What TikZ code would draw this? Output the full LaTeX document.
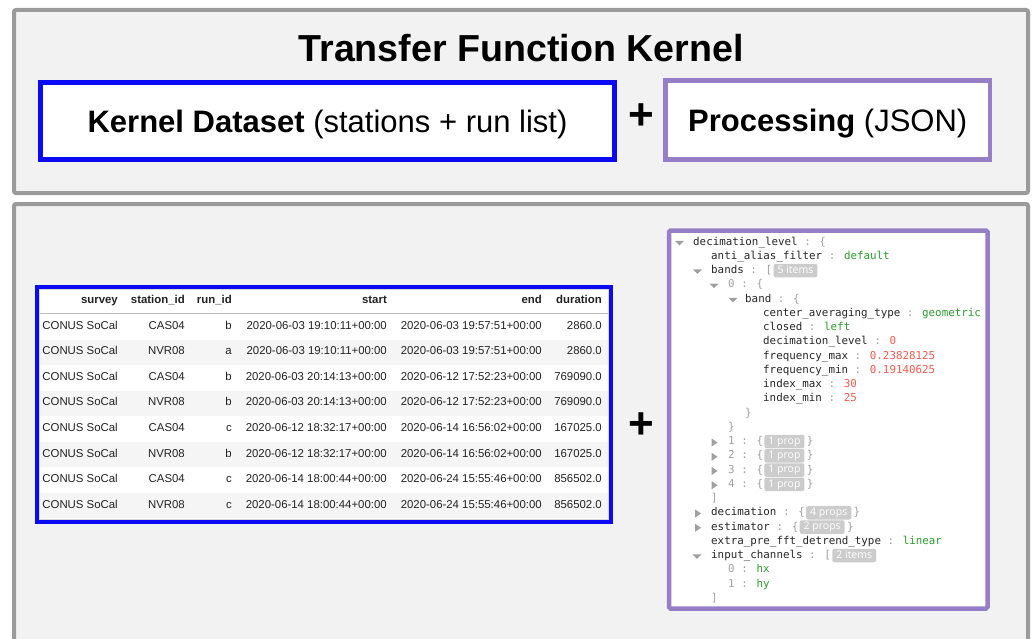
\documentclass[tikz,border=0pt]{standalone}
\usepackage{fontspec}
\setmainfont{Liberation Sans}
\newfontfamily\jmono{DejaVu Sans Mono}
\newfontfamily\badgefont{Open Sans}
\definecolor{panelfill}{RGB}{242,242,242}
\definecolor{panelline}{RGB}{155,155,155}
\definecolor{kblue}{RGB}{10,10,245}
\definecolor{kpurple}{RGB}{149,128,200}
\definecolor{tabtext}{RGB}{34,34,34}
\definecolor{tabline}{RGB}{190,190,190}
\definecolor{rowalt}{RGB}{245,245,245}
\definecolor{jkey}{RGB}{40,40,40}
\definecolor{jpun}{RGB}{160,160,160}
\definecolor{jstr}{RGB}{45,155,45}
\definecolor{jnum}{RGB}{240,90,80}
\definecolor{badgefill}{RGB}{204,204,204}
\newcommand\jk[1]{\textcolor{jkey}{\relax#1}}
\newcommand\jp[1]{\textcolor{jpun}{\relax#1}}
\newcommand\js[1]{\textcolor{jstr}{\relax#1}}
\newcommand\jn[1]{\textcolor{jnum}{\relax#1}}
\begin{document}
\begin{tikzpicture}[x=1pt,y=-1pt,
  panel/.style={draw=panelline,fill=panelfill,line width=4pt,rounded corners=2pt},
  bigbox/.style={draw,fill=white,line width=4.5pt,inner sep=0pt,text height=22.2pt,text depth=0pt,font=\fontsize{31}{34}\selectfont},
  plusnode/.style={inner sep=0pt,font=\bfseries\fontsize{44}{46}\selectfont},
  cell/.style={anchor=base east,inner sep=0pt,text=tabtext,font=\fontsize{11.4}{13}\selectfont},
  hcell/.style={cell,font=\bfseries\fontsize{11.4}{13}\selectfont},
  jl/.style={anchor=west,inner sep=0pt,text height=7pt,text depth=1pt,font=\jmono\fontsize{10.85}{13}\selectfont},
  badge/.style={anchor=west,fill=badgefill,text=white,rounded corners=2pt,inner xsep=4pt,inner ysep=2pt,text height=7.5pt,text depth=2pt,font=\badgefont\fontsize{10.5}{11}\selectfont},
  jdown/.pic={\fill[jpun] (-4.5,-2.2) -- (4.5,-2.2) -- (0,2.5) -- cycle;},
  jright/.pic={\fill[jpun] (-2.8,-4) -- (-2.8,4) -- (3,0) -- cycle;}
]
\useasboundingbox (0,0) rectangle (1035,639);
\fill[white] (0,0) rectangle (1035,639);
% panels
\draw[panel] (14,10) rectangle (1028,193);
\begin{scope}
  \clip (0,0) rectangle (1035,639);
  \draw[panel] (14,204) rectangle (1028,670);
\end{scope}
% top panel content
\node[anchor=base,inner sep=0pt,font=\bfseries\fontsize{37.6}{40}\selectfont] (title) at (521,62) {Transfer Function Kernel};
\node[bigbox,draw=kblue,minimum width=574pt,minimum height=77pt] (kd) at (327.5,121) {\textbf{Kernel Dataset} (stations + run list)};
\node[plusnode] (plus1) at (641,117) {+};
\node[bigbox,draw=kpurple,minimum width=324.5pt,minimum height=79pt] (proc) at (827.75,120) {\textbf{Processing} (JSON)};
% table
\draw[kblue,fill=white,line width=4pt] (37,287) rectangle (611,522);
\draw[tabline!60,line width=0.8pt] (39.6,289.6) rectangle (608.4,519.4);
\foreach \i in {2,4,6,8}
  \fill[rowalt] (40,{314+25.5*(\i-1)}) rectangle (608,{314+25.5*\i});
\draw[tabline,line width=1pt] (40,313.5) -- (608,313.5);
\node[hcell] (hsv) at (118,303) {survey};
\node[hcell] (hst) at (185,303) {station\_id};
\node[hcell] (hri) at (232,303) {run\_id};
\node[hcell] (hsa) at (387,303) {start};
\node[hcell] (hen) at (542,303) {end};
\node[hcell] (hdu) at (602,303) {duration};
\foreach \i/\st/\ri/\sa/\en/\du in {
  1/CAS04/b/2020-06-03 19:10:11+00:00/2020-06-03 19:57:51+00:00/2860.0,
  2/NVR08/a/2020-06-03 19:10:11+00:00/2020-06-03 19:57:51+00:00/2860.0,
  3/CAS04/b/2020-06-03 20:14:13+00:00/2020-06-12 17:52:23+00:00/769090.0,
  4/NVR08/b/2020-06-03 20:14:13+00:00/2020-06-12 17:52:23+00:00/769090.0,
  5/CAS04/c/2020-06-12 18:32:17+00:00/2020-06-14 16:56:02+00:00/167025.0,
  6/NVR08/b/2020-06-12 18:32:17+00:00/2020-06-14 16:56:02+00:00/167025.0,
  7/CAS04/c/2020-06-14 18:00:44+00:00/2020-06-24 15:55:46+00:00/856502.0,
  8/NVR08/c/2020-06-14 18:00:44+00:00/2020-06-24 15:55:46+00:00/856502.0}{
  \pgfmathsetmacro\yb{329.2+25.57*(\i-1)}
  \node[cell] (sv\i) at (118,\yb) {CONUS SoCal};
  \node[cell] (st\i) at (185,\yb) {\st};
  \node[cell] (ri\i) at (232,\yb) {\ri};
  \node[cell] (sa\i) at (387,\yb) {\sa};
  \node[cell] (en\i) at (542,\yb) {\en};
  \node[cell] (du\i) at (602,\yb) {\du};
}
\node[plusnode] (plus2) at (641,426) {+};
% JSON box
\draw[kpurple,fill=white,line width=4.5pt,rounded corners=1.5pt] (669,230.5) rectangle (987.5,608.5);
\pic at (679.5,243) {jdown};
\node[jl] (k1) at (693,242) {\jk{decimation\_level}\jp{ : \{}};
\node[jl] (k2) at (711,256.25) {\jk{anti\_alias\_filter}\jp{ : }\js{default}};
\pic at (697.5,271.5) {jdown};
\node[jl] (k3) at (711,270.5) {\jk{bands}\jp{ : [}};
\node[badge] (b3) at ([xshift=1pt]k3.east) {5 items};
\pic at (714,285.75) {jdown};
\node[jl] (k4) at (728,284.75) {\jp{0 : \{}};
\pic at (733,300) {jdown};
\node[jl] (k5) at (745,299) {\jk{band}\jp{ : \{}};
\node[jl] (k6) at (763,313.25) {\jk{center\_averaging\_type}\jp{ : }\js{geometric}};
\node[jl] (k7) at (763,327.5) {\jk{closed}\jp{ : }\js{left}};
\node[jl] (k8) at (763,341.75) {\jk{decimation\_level}\jp{ : }\jn{0}};
\node[jl] (k9) at (763,356) {\jk{frequency\_max}\jp{ : }\jn{0.23828125}};
\node[jl] (k10) at (763,370.25) {\jk{frequency\_min}\jp{ : }\jn{0.19140625}};
\node[jl] (k11) at (763,384.5) {\jk{index\_max}\jp{ : }\jn{30}};
\node[jl] (k12) at (763,398.75) {\jk{index\_min}\jp{ : }\jn{25}};
\node[jl] (k13) at (745,413) {\jp{\}}};
\node[jl] (k14) at (728,427.25) {\jp{\}}};
\foreach \n/\yy in {1/441.5,2/455.75,3/470,4/484.25}{
  \pic at (714.5,\yy+1) {jright};
  \node[jl] (p\n) at (728,\yy) {\jp{\n\ : \{}};
  \node[badge] (pb\n) at ([xshift=1pt]p\n.east) {1 prop};
  \node[jl] (pc\n) at ([xshift=2pt]pb\n.east) {\jp{\}}};
}
\node[jl] (k19) at (711,498.5) {\jp{]}};
\pic at (698,513.5) {jright};
\node[jl] (k20) at (711,512.75) {\jk{decimation}\jp{ : \{}};
\node[badge] (b20) at ([xshift=1pt]k20.east) {4 props};
\node[jl] (c20) at ([xshift=2pt]b20.east) {\jp{\}}};
\pic at (698,527.75) {jright};
\node[jl] (k21) at (711,527) {\jk{estimator}\jp{ : \{}};
\node[badge] (b21) at ([xshift=1pt]k21.east) {2 props};
\node[jl] (c21) at ([xshift=2pt]b21.east) {\jp{\}}};
\node[jl] (k22) at (711,541.25) {\jk{extra\_pre\_fft\_detrend\_type}\jp{ : }\js{linear}};
\pic at (697,556.5) {jdown};
\node[jl] (k23) at (711,555.5) {\jk{input\_channels}\jp{ : [}};
\node[badge] (b23) at ([xshift=1pt]k23.east) {2 items};
\node[jl] (k24) at (728,569.75) {\jp{0 : }\js{hx}};
\node[jl] (k25) at (728,584) {\jp{1 : }\js{hy}};
\node[jl] (k26) at (711,598.25) {\jp{]}};
\end{tikzpicture}
\end{document}
